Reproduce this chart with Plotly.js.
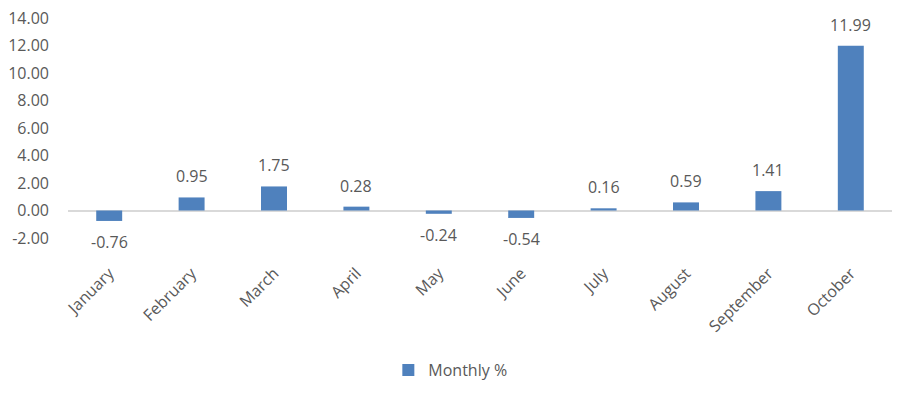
<!DOCTYPE html>
<html>
<head>
<meta charset="utf-8">
<script src="https://cdn.plot.ly/plotly-3.0.1.min.js"></script>
<style>body{margin:0;background:#fff}#chart{width:915px;height:399px}</style>
</head>
<body>
<div id="chart"></div>
<script>
const months = ["January","February","March","April","May","June","July","August","September","October"];
const monthly = [-0.76, 0.95, 1.75, 0.28, -0.24, -0.54, 0.16, 0.59, 1.41, 11.99];
const yTicks = [-2, 0, 2, 4, 6, 8, 10, 12, 14];

const font = {family: "Open Sans, sans-serif", size: 16, color: "#595959"};
const labels = months.map((m, i) => ({
  x: m, y: monthly[i], xref: "x", yref: "y",
  text: monthly[i].toFixed(2), showarrow: false,
  yanchor: "middle", yshift: monthly[i] >= 0 ? 21 : -21,
  font: font
}));
Plotly.newPlot("chart", [{
  type: "bar",
  x: months,
  y: monthly,
  name: "Monthly %",
  marker: {color: "#4F81BD"},
  hoverinfo: "none"
}], {
  width: 915, height: 399,
  margin: {l: 68, r: 23, t: 18, b: 161},
  paper_bgcolor: "#fff", plot_bgcolor: "#fff",
  font: font,
  bargap: 0.685,
  showlegend: true,
  annotations: labels,
  legend: {orientation: "h", x: 0.464, xanchor: "center", y: -0.6, yanchor: "middle", font: font},
  xaxis: {tickangle: -45, showgrid: false, showline: false, zeroline: false, ticks: "", tickfont: font, ticklabelstandoff: 22},
  yaxis: {range: [-2, 14], tickvals: yTicks, ticktext: yTicks.map(v => v.toFixed(2)), showgrid: false,
          zeroline: true, zerolinecolor: "#D9D9D9", zerolinewidth: 2, showline: false, ticks: "", tickfont: font, ticklabelstandoff: 18}
}, {displayModeBar: false, staticPlot: true});
</script>
</body>
</html>
